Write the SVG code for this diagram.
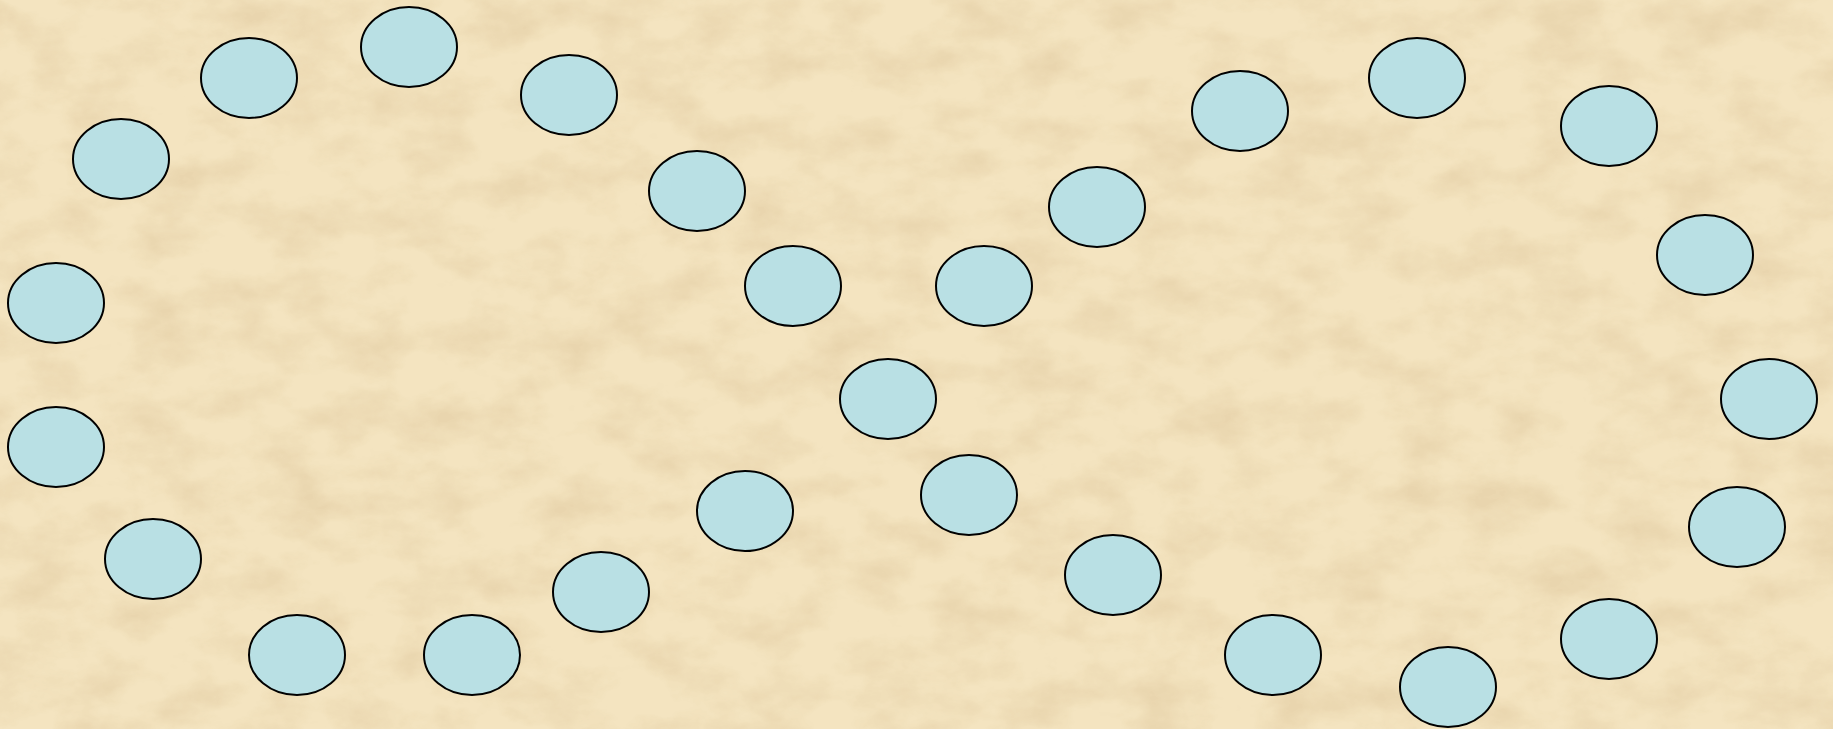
<svg xmlns="http://www.w3.org/2000/svg" width="1833" height="729" viewBox="0 0 1833 729">
<style>
.n ellipse{fill:#b9e0e4;stroke:#000;stroke-width:2}
</style>
<defs>
<filter id="paper" x="0" y="0" width="100%" height="100%">
<feTurbulence type="fractalNoise" baseFrequency="0.015 0.025" numOctaves="5" seed="7" result="t"/>
<feColorMatrix in="t" type="matrix" values="0 0 0 0 0.74  0 0 0 0 0.58  0 0 0 0 0.34  0 0 0 -2.2 1.35"/>
</filter>
</defs>
<rect width="1833" height="729" fill="#f4e4c0"/>
<rect width="1833" height="729" filter="url(#paper)" opacity="0.5"/>
<g id="connectors"></g>
<g id="n1" class="n"><ellipse cx="249" cy="78" rx="48" ry="40"/></g>
<g id="n2" class="n"><ellipse cx="409" cy="47" rx="48" ry="40"/></g>
<g id="n3" class="n"><ellipse cx="569" cy="95" rx="48" ry="40"/></g>
<g id="n4" class="n"><ellipse cx="121" cy="159" rx="48" ry="40"/></g>
<g id="n5" class="n"><ellipse cx="697" cy="191" rx="48" ry="40"/></g>
<g id="n6" class="n"><ellipse cx="56" cy="303" rx="48" ry="40"/></g>
<g id="n7" class="n"><ellipse cx="793" cy="286" rx="48" ry="40"/></g>
<g id="n8" class="n"><ellipse cx="984" cy="286" rx="48" ry="40"/></g>
<g id="n9" class="n"><ellipse cx="1097" cy="207" rx="48" ry="40"/></g>
<g id="n10" class="n"><ellipse cx="1240" cy="111" rx="48" ry="40"/></g>
<g id="n11" class="n"><ellipse cx="1417" cy="78" rx="48" ry="40"/></g>
<g id="n12" class="n"><ellipse cx="1609" cy="126" rx="48" ry="40"/></g>
<g id="n13" class="n"><ellipse cx="1705" cy="255" rx="48" ry="40"/></g>
<g id="n14" class="n"><ellipse cx="1769" cy="399" rx="48" ry="40"/></g>
<g id="n15" class="n"><ellipse cx="1737" cy="527" rx="48" ry="40"/></g>
<g id="n16" class="n"><ellipse cx="1609" cy="639" rx="48" ry="40"/></g>
<g id="n17" class="n"><ellipse cx="1448" cy="687" rx="48" ry="40"/></g>
<g id="n18" class="n"><ellipse cx="1273" cy="655" rx="48" ry="40"/></g>
<g id="n19" class="n"><ellipse cx="1113" cy="575" rx="48" ry="40"/></g>
<g id="n20" class="n"><ellipse cx="969" cy="495" rx="48" ry="40"/></g>
<g id="n21" class="n"><ellipse cx="888" cy="399" rx="48" ry="40"/></g>
<g id="n22" class="n"><ellipse cx="745" cy="511" rx="48" ry="40"/></g>
<g id="n23" class="n"><ellipse cx="601" cy="592" rx="48" ry="40"/></g>
<g id="n24" class="n"><ellipse cx="472" cy="655" rx="48" ry="40"/></g>
<g id="n25" class="n"><ellipse cx="297" cy="655" rx="48" ry="40"/></g>
<g id="n26" class="n"><ellipse cx="153" cy="559" rx="48" ry="40"/></g>
<g id="n27" class="n"><ellipse cx="56" cy="447" rx="48" ry="40"/></g>
</svg>
